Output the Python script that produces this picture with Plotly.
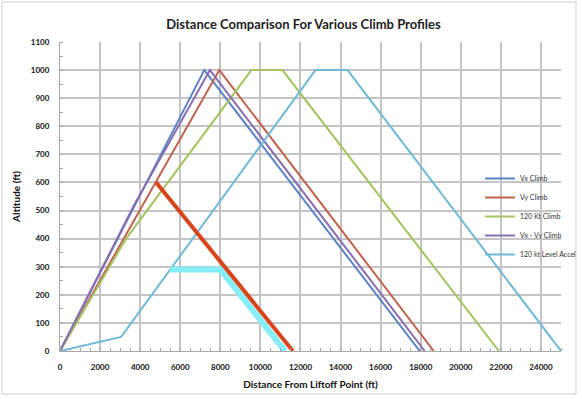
import plotly.graph_objects as go

# Data (distance ft, altitude ft)
vx_x = [0, 7200, 17950]
vx_y = [0, 1000, 0]
vy_x = [0, 7950, 18650]
vy_y = [0, 1000, 0]
kt120_x = [0, 3300, 9550, 11100, 21900]
kt120_y = [0, 400, 1000, 1000, 0]
vxvy_x = [0, 3700, 7480, 18200]
vxvy_y = [0, 520, 1000, 0]
lvl_x = [0, 3050, 12750, 14350, 25000]
lvl_y = [0, 50, 1000, 1000, 0]
orange_x = [4800, 11620]
orange_y = [600, 0]
aqua_x = [5520, 8000, 11230]
aqua_y = [290, 290, 0]

series = [
    ("Vx Climb", vx_x, vx_y, "#5B84C4"),
    ("Vy Climb", vy_x, vy_y, "#C0634F"),
    ("120 Kt Climb", kt120_x, kt120_y, "#A5C360"),
    ("Vx - Vy Climb", vxvy_x, vxvy_y, "#8A6EB2"),
    ("120 kt Level Accel", lvl_x, lvl_y, "#72B9D6"),
]

x_ticks = list(range(0, 26000, 2000))
x_labels = [str(v) for v in x_ticks]
y_ticks = list(range(0, 1200, 100))
y_labels = [str(v) for v in y_ticks]

fig = go.Figure()
for name, xs, ys, c in series:
    fig.add_trace(go.Scatter(x=xs, y=ys, mode="lines", name=name,
                             line=dict(color=c, width=2)))
fig.add_trace(go.Scatter(x=aqua_x, y=aqua_y, mode="lines", showlegend=False,
                         line=dict(color="#86EEF6", width=6)))
fig.add_trace(go.Scatter(x=orange_x, y=orange_y, mode="lines", showlegend=False,
                         line=dict(color="#D8451B", width=4)))

font_fam = "Lato, 'Open Sans', sans-serif"
fig.update_layout(
    width=582, height=399,
    margin=dict(l=60, r=21, t=42, b=48, autoexpand=False),
    paper_bgcolor="white", plot_bgcolor="white",
    title=dict(text="<b>Distance Comparison For Various Climb Profiles</b>",
               x=(303.5) / 582, xanchor="center", y=1 - 24 / 399, yanchor="middle",
               font=dict(family=font_fam, size=13, color="#222")),
    font=dict(family=font_fam, color="#111"),
    legend=dict(x=(480 - 60) / 501, y=(351 - 164) / 309,
                xanchor="left", yanchor="top",
                font=dict(size=7, color="#333"), itemwidth=30, bgcolor="rgba(0,0,0,0)",
                tracegroupgap=0),
    xaxis=dict(range=[0, 25000], tickvals=x_ticks, ticktext=x_labels, showgrid=True,
               gridcolor="#C4C4C4", automargin=False,
               gridwidth=1.5, zeroline=False, showline=True, linecolor="#A8A8A8",
               tickfont=dict(size=8, family=font_fam, weight="bold"), ticks="",
               ticklabelstandoff=8,
               minor=dict(dtick=500, ticks="inside", ticklen=3, tickcolor="#A8A8A8", showgrid=False),
               title=dict(text="<b>Distance From Liftoff Point (ft)</b>", standoff=10,
                          font=dict(size=10, family=font_fam))),
    yaxis=dict(range=[0, 1100], tickvals=y_ticks, ticktext=y_labels, showgrid=True,
               gridcolor="#C4C4C4", automargin=False,
               gridwidth=1.5, zeroline=False, showline=True, linecolor="#A8A8A8",
               tickfont=dict(size=8, family=font_fam, weight="bold"), ticks="",
               ticklabelstandoff=8,
               minor=dict(dtick=50, ticks="inside", ticklen=3, tickcolor="#A8A8A8", showgrid=False),
               title=dict(text="<b>Altitude (ft)</b>", standoff=8,
                          font=dict(size=10, family=font_fam))),
    shapes=[dict(type="rect", xref="paper", yref="paper",
                 x0=-58 / 501, x1=516 / 501, y0=-43 / 309, y1=349 / 309,
                 line=dict(color="#CFCFCF", width=1))],
)
fig.write_html("out.html", config={"displayModeBar": False},
               post_script="document.body.style.margin='0px';")
